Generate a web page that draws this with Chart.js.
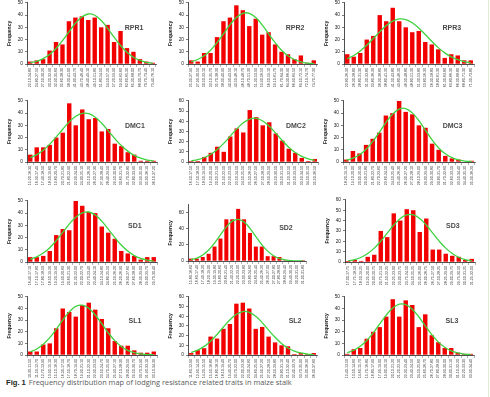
<!DOCTYPE html>
<html>
<head>
<meta charset="utf-8">
<script src="https://cdn.jsdelivr.net/npm/chart.js@4.4.0/dist/chart.umd.min.js"></script>
<style>
    body { margin: 0; background: #fff; }
    #wrap { position: relative; width: 490px; height: 397px; overflow: hidden; }
    #wrap canvas { position: absolute; }
    #edge { position: absolute; left: 488px; top: 0; width: 1px; height: 397px; background: #dcebd3; }
    #caption { position: absolute; left: 6px; top: 377px; font-family: "Open Sans", "Liberation Sans", sans-serif; font-size: 7.4px; color: #5a5a5a; white-space: nowrap; }
    #caption b { color: #231f20; font-family: "Liberation Sans", Arial, sans-serif; font-size: 7.6px; margin-right: 3px; }
</style>
</head>
<body>
<div id="wrap">
    <div id="edge"></div>
    <div id="caption"><b>Fig. 1</b>Frequency distribution map of lodging resistance related traits in maize stalk</div>
</div>
<script>
// frequency counts per class
const rpr1Freq = [2,3,4,11,18,16,35,38,39,36,38,30,32,18,27,13,10,4,2,1];
const rpr2Freq = [3,2,9,9,22,35,38,48,44,31,37,24,26,16,10,8,4,7,1,3];
const rpr3Freq = [8,6,9,20,23,40,35,46,35,30,26,27,18,16,12,5,8,7,3,3];
const dmc1Freq = [6,12,12,14,20,24,48,30,43,35,36,25,27,15,13,8,6,1,1,1];
const dmc2Freq = [1,1,5,9,15,10,25,33,29,51,44,36,39,28,21,13,9,4,1,3];
const dmc3Freq = [2,9,7,14,19,24,38,40,50,41,39,30,28,15,10,5,3,2,0,1];
const sd1Freq = [4,4,5,9,22,27,26,50,46,41,40,29,24,19,9,7,5,2,4,4];
const sd2Freq = [3,3,5,9,18,28,52,52,65,52,35,18,18,6,6,5,1,0,0,1];
const sd3Freq = [1,2,1,5,7,30,24,47,40,51,50,29,42,12,12,8,6,5,2,3];
const sl1Freq = [3,3,9,10,23,40,37,33,43,45,39,31,23,12,8,8,4,2,2,3];
const sl2Freq = [2,5,7,19,17,27,32,53,54,48,27,29,19,13,10,9,1,2,1,2];
const sl3Freq = [1,5,6,14,20,24,33,48,33,47,43,24,35,17,11,6,6,2,1,1];

// fitted normal curve at each class
const rpr1Fit = [1.1,2.2,4.4,7.8,12.7,19.1,26.3,33.3,38.5,40.9,39.9,35.6,29.2,21.9,15.1,9.6,5.5,3.0,1.4,0.6];
const rpr2Fit = [1.8,3.7,6.8,11.3,17.5,24.7,32.0,38.1,41.5,41.5,38.1,32.0,24.7,17.5,11.3,6.8,3.7,1.8,0.8,0.4];
const rpr3Fit = [4.3,7.0,10.7,15.4,20.8,26.3,31.4,35.1,36.9,36.4,33.8,29.5,24.1,18.6,13.4,9.1,5.8,3.5,2.0,1.0];
const dmc1Fit = [3.5,6.0,9.7,14.6,20.5,26.8,32.8,37.4,39.8,39.5,36.6,31.7,25.5,19.2,13.5,8.9,5.4,3.1,1.6,0.8];
const dmc2Fit = [1.1,2.3,4.4,7.6,12.3,18.3,25.4,32.5,38.5,42.2,42.9,40.3,35.1,28.3,21.1,14.5,9.3,5.5,3.0,1.5];
const dmc3Fit = [1.5,3.1,5.9,10.4,16.7,24.3,32.3,39.1,43.3,43.7,40.2,33.8,25.9,18.1,11.5,6.7,3.6,1.7,0.8,0.3];
const sd1Fit = [2.2,4.2,7.3,11.7,17.5,24.2,31.0,36.7,40.2,40.9,38.4,33.4,26.9,20.1,13.9,8.9,5.2,2.9,1.5,0.7];
const sd2Fit = [1.6,3.7,7.5,13.7,22.3,32.6,42.6,49.7,52.0,48.6,40.7,30.5,20.4,12.3,6.6,3.2,1.4,0.5,0.2,0.1];
const sd3Fit = [1.2,2.4,4.6,8.2,13.4,20.1,27.9,35.7,42.0,45.5,45.5,42.0,35.7,27.9,20.1,13.4,8.2,4.6,2.4,1.2];
const sl1Fit = [2.6,5.2,9.2,14.9,22.2,30.0,37.1,41.8,42.9,40.3,34.4,26.9,19.1,12.4,7.4,4.0,2.0,0.9,0.4,0.1];
const sl2Fit = [2.7,5.1,8.9,14.3,21.2,28.9,36.3,42.0,44.8,44.1,40.0,33.4,25.7,18.3,11.9,7.2,4.0,2.1,1.0,0.4];
const sl3Fit = [2.1,4.1,7.5,12.5,19.0,26.7,34.3,40.4,43.7,43.3,39.4,32.9,25.1,17.6,11.3,6.7,3.6,1.8,0.8,0.3];

// class boundaries (tick labels are "lower-upper")
const rpr1Edges = [22.1,24.8,27.5,30.2,32.9,35.6,38.3,41.0,43.7,46.4,49.1,51.8,54.5,57.2,59.9,62.6,65.3,68.0,70.7,73.4,76.1];
const rpr2Edges = [25.3,27.9,30.5,33.1,35.7,38.3,40.9,43.5,46.1,48.7,51.3,53.9,56.5,59.1,61.7,64.3,66.9,69.5,72.1,74.7,77.3];
const rpr3Edges = [23.8,26.3,28.8,31.3,33.8,36.3,38.8,41.3,43.8,46.3,48.8,51.3,53.8,56.3,58.8,61.3,63.8,66.3,68.8,71.3,73.8];
const dmc1Edges = [15.2,16.3,17.4,18.5,19.6,20.7,21.8,22.9,24.0,25.1,26.2,27.3,28.4,29.5,30.6,31.7,32.8,33.9,35.0,36.1,37.2];
const dmc2Edges = [16.5,17.5,18.5,19.5,20.5,21.5,22.5,23.5,24.5,25.5,26.5,27.5,28.5,29.5,30.5,31.5,32.5,33.5,34.5,35.5,36.5];
const dmc3Edges = [18.2,19.1,20.0,20.9,21.8,22.7,23.6,24.5,25.4,26.3,27.2,28.1,29.0,29.9,30.8,31.7,32.6,33.5,34.4,35.3,36.2];
const sd1Edges = [16.4,17.1,17.8,18.5,19.2,19.9,20.6,21.3,22.0,22.7,23.4,24.1,24.8,25.5,26.2,26.9,27.6,28.3,29.0,29.7,30.4];
const sd2Edges = [15.8,16.6,17.4,18.2,19.0,19.8,20.6,21.4,22.2,23.0,23.8,24.6,25.4,26.2,27.0,27.8,28.6,29.4,30.2,31.0,31.8];
const sd3Edges = [17.00,17.75,18.50,19.25,20.00,20.75,21.50,22.25,23.00,23.75,24.50,25.25,26.00,26.75,27.50,28.25,29.00,29.75,30.50,31.25,32.00];
const sl1Edges = [10.3,11.5,12.7,13.9,15.1,16.3,17.5,18.7,19.9,21.1,22.3,23.5,24.7,25.9,27.1,28.3,29.5,30.7,31.9,33.1,34.3];
const sl2Edges = [11.6,12.9,14.2,15.5,16.8,18.1,19.4,20.7,22.0,23.3,24.6,25.9,27.2,28.5,29.8,31.1,32.4,33.7,35.0,36.3,37.6];
const sl3Edges = [12.4,13.5,14.6,15.7,16.8,17.9,19.0,20.1,21.2,22.3,23.4,24.5,25.6,26.7,27.8,28.9,30.0,31.1,32.2,33.3,34.4];

const yMaxes = [50,50,50, 50,60,50, 50,70,60, 50,60,50];
const traitNames = ['RPR1','RPR2','RPR3','DMC1','DMC2','DMC3','SD1','SD2','SD3','SL1','SL2','SL3'];

// plot area of each panel on the page: [left, right, top, bottom]
const boxes = [
    [27,156,2,64], [188,317,2,64], [344,474,2,64],
    [27,157,100,162], [188,318,100,162], [343,475,100,162],
    [27,157,200,262], [188,306,204,261], [345,475,199,262],
    [27,157,296,355], [188,317,296,355], [344,474,296,355]
];

const panels = [
    [rpr1Freq, rpr1Fit, rpr1Edges], [rpr2Freq, rpr2Fit, rpr2Edges], [rpr3Freq, rpr3Fit, rpr3Edges],
    [dmc1Freq, dmc1Fit, dmc1Edges], [dmc2Freq, dmc2Fit, dmc2Edges], [dmc3Freq, dmc3Fit, dmc3Edges],
    [sd1Freq, sd1Fit, sd1Edges], [sd2Freq, sd2Fit, sd2Edges], [sd3Freq, sd3Fit, sd3Edges],
    [sl1Freq, sl1Fit, sl1Edges], [sl2Freq, sl2Fit, sl2Edges], [sl3Freq, sl3Fit, sl3Edges]
];

const Y_W = 20;   // width reserved for y axis
const X_H = 26;   // height reserved for x labels
const PAD_T = 4;
const PAD_R = 3;

// draws the trait name inside the plot
const nameLabel = {
    id: 'nameLabel',
    afterDraw(chart, args, opts) {
        const {ctx, chartArea: a} = chart;
        ctx.save();
        ctx.font = 'bold 7px "Liberation Sans", Arial, sans-serif';
        ctx.fillStyle = '#4a4a4a';
        ctx.textAlign = 'center';
        ctx.textBaseline = 'middle';
        ctx.fillText(opts.text, a.left + a.width * 0.83, a.top + a.height * 0.42);
        ctx.restore();
    }
};

function makePanel(i) {
    const [freq, fit, edges] = panels[i];
    const [l, r, t, b] = boxes[i];
    const labels = edges.slice(0, -1).map((e, k) => e.toFixed(2) + '-' + edges[k + 1].toFixed(2));

    const canvas = document.createElement('canvas');
    const w = (r - l) + Y_W + PAD_R;
    const h = (b - t) + PAD_T + X_H;
    canvas.width = w;
    canvas.height = h;
    canvas.style.left = (l - Y_W) + 'px';
    canvas.style.top = (t - PAD_T) + 'px';
    document.getElementById('wrap').appendChild(canvas);

    new Chart(canvas.getContext('2d'), {
        type: 'bar',
        data: {
            labels: labels,
            datasets: [{
                type: 'line',
                data: fit,
                borderColor: '#3fd23f',
                borderWidth: 1.3,
                pointRadius: 0,
                tension: 0.4,
                fill: false,
                order: 0
            }, {
                data: freq,
                backgroundColor: '#f20000',
                barPercentage: 0.68,
                categoryPercentage: 1,
                order: 1
            }]
        },
        options: {
            responsive: false,
            animation: false,
            devicePixelRatio: 1,
            layout: { padding: { top: PAD_T, right: PAD_R, left: 0, bottom: 0 } },
            plugins: {
                legend: { display: false },
                tooltip: { enabled: false },
                nameLabel: { text: traitNames[i] }
            },
            scales: {
                x: {
                    offset: true,
                    afterFit: (s) => { s.height = X_H; },
                    border: { color: '#222', width: 0.8 },
                    grid: { display: true, drawOnChartArea: false, offset: true, tickLength: 3, color: '#666', lineWidth: 0.5 },
                    ticks: {
                        autoSkip: false,
                        maxRotation: 90,
                        minRotation: 90,
                        padding: 1,
                        color: '#333',
                        font: { size: 3.6, family: '"Liberation Sans", Arial, sans-serif' }
                    }
                },
                y: {
                    min: 0,
                    max: yMaxes[i],
                    afterFit: (s) => { s.width = Y_W; },
                    border: { color: '#222', width: 0.8 },
                    grid: { drawOnChartArea: false, tickLength: 2, color: '#222', lineWidth: 0.6 },
                    ticks: {
                        stepSize: 10,
                        padding: 2,
                        color: '#222',
                        font: { size: 4.8, family: '"Liberation Sans", Arial, sans-serif' }
                    },
                    title: {
                        display: true,
                        text: 'Frequency',
                        padding: 0,
                        color: '#222',
                        font: { size: 5, weight: 'bold', family: '"Liberation Sans", Arial, sans-serif' }
                    }
                }
            }
        },
        plugins: [nameLabel]
    });
}

for (let i = 0; i < panels.length; i++) {
    makePanel(i);
}
</script>
</body>
</html>
